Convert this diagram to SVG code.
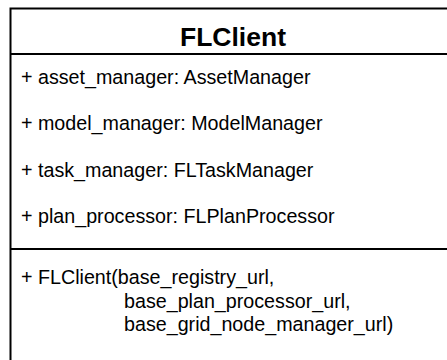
<svg xmlns="http://www.w3.org/2000/svg" width="447" height="360" viewBox="0 0 447 360">
  <style>
    .box { fill: #ffffff; stroke: #000000; stroke-width: 2; }
    .sep { stroke: #000000; stroke-width: 2; fill: none; }
    .title { font-family: "Liberation Sans", Arial, sans-serif; font-size: 26.5px; font-weight: bold; fill: #000000; }
    .member { font-family: "Liberation Sans", Arial, sans-serif; font-size: 19.7px; fill: #000000; }
  </style>
  <rect width="447" height="360" fill="#ffffff"/>
  <!-- UML class box for FLClient -->
  <g id="FLClient">
    <rect class="box" x="10.5" y="8.5" width="445" height="400"/>
    <line class="sep" x1="10.5" y1="54" x2="456" y2="54"/>
    <line class="sep" x1="10.5" y1="249" x2="456" y2="249"/>
    <text class="title" x="233" y="46" text-anchor="middle">FLClient</text>
    <!-- attributes -->
    <text class="member" x="21" y="84">+ asset_manager: AssetManager</text>
    <text class="member" x="21" y="130">+ model_manager: ModelManager</text>
    <text class="member" x="21" y="177">+ task_manager: FLTaskManager</text>
    <text class="member" x="21" y="223">+ plan_processor: FLPlanProcessor</text>
    <!-- operations -->
    <text class="member" x="21" y="284">+ FLClient(base_registry_url,</text>
    <text class="member" x="124" y="308">base_plan_processor_url,</text>
    <text class="member" x="124" y="331">base_grid_node_manager_url)</text>
  </g>
  <g id="connectors"/>
</svg>
